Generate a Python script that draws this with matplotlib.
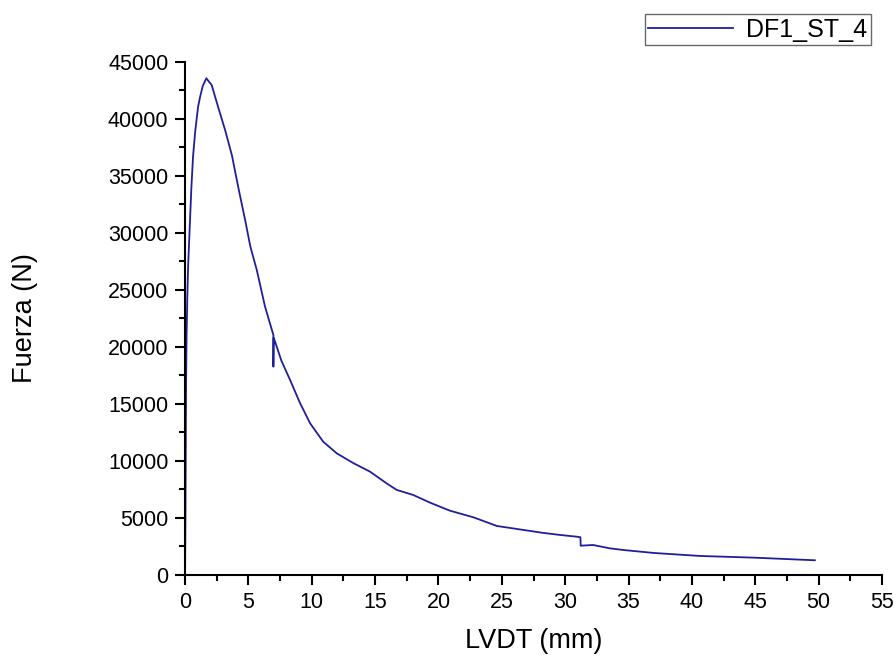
import matplotlib
matplotlib.use("Agg")
import matplotlib.pyplot as plt
from matplotlib.ticker import MultipleLocator

plt.rcParams['font.family'] = ['Liberation Sans', 'DejaVu Sans']

# LVDT (mm) vs Fuerza (N)
lvdt = [0.0, 0.03, 0.05, 0.08, 0.12, 0.18, 0.24, 0.37, 0.50, 0.63, 0.80,
        1.03, 1.20, 1.40, 1.68, 1.90, 2.10, 2.60, 3.16, 3.70, 4.20, 4.74,
        5.15, 5.66, 6.31, 6.97, 6.97, 6.99, 7.10, 7.60, 8.29, 9.08, 9.87,
        10.90, 11.97, 13.30, 14.60, 15.90, 16.70, 18.00, 19.34, 20.90,
        22.75, 24.60, 26.70, 28.20, 29.60, 30.90, 31.20, 31.22, 32.20,
        33.50, 34.60, 37.00, 40.60, 44.90, 49.70]
fuerza = [0, 5000, 10000, 16840, 21000, 24500, 27040, 30550, 34000, 36700,
          38900, 41080, 42000, 42900, 43570, 43250, 42980, 41080, 39030,
          36800, 34000, 31140, 28820, 26750, 23540, 21050, 18270, 20800,
          20470, 18800, 17100, 15060, 13300, 11690, 10670, 9800, 9060, 8040,
          7460, 7020, 6340, 5640, 5060, 4300, 3950, 3700, 3510, 3360, 3310,
          2570, 2630, 2340, 2190, 1930, 1670, 1520, 1290]

fig = plt.figure(figsize=(8.94, 6.59), dpi=100)
ax = fig.add_axes([0.207, 0.1275, 0.7796, 0.7785])

ax.plot(lvdt, fuerza, color='#1f1f9c', lw=1.3, label='DF1_ST_4')

ax.set_xlim(0, 55)
ax.set_ylim(0, 45000)
ax.xaxis.set_major_locator(MultipleLocator(5))
ax.xaxis.set_minor_locator(MultipleLocator(2.5))
ax.yaxis.set_major_locator(MultipleLocator(5000))
ax.yaxis.set_minor_locator(MultipleLocator(2500))

for side in ['top', 'right']:
    ax.spines[side].set_visible(False)
for side in ['left', 'bottom']:
    ax.spines[side].set_linewidth(1.5)
ax.tick_params(which='major', direction='out', length=7, width=1.5,
               labelsize=15.5, pad=5)
ax.tick_params(which='minor', direction='out', length=4, width=1.5)

ax.set_xlabel('LVDT (mm)', fontsize=19.5, labelpad=11)
ax.set_ylabel('Fuerza (N)', fontsize=19.5, labelpad=50)

leg = fig.legend(loc='upper right', bbox_to_anchor=(0.974, 0.979),
                 fontsize=18, frameon=True, fancybox=False, handlelength=3.4,
                 borderpad=0.15, handletextpad=0.5, borderaxespad=0)
leg.get_frame().set_edgecolor('#444444')
leg.get_frame().set_linewidth(1.0)

fig.savefig('out.png', dpi=100)
